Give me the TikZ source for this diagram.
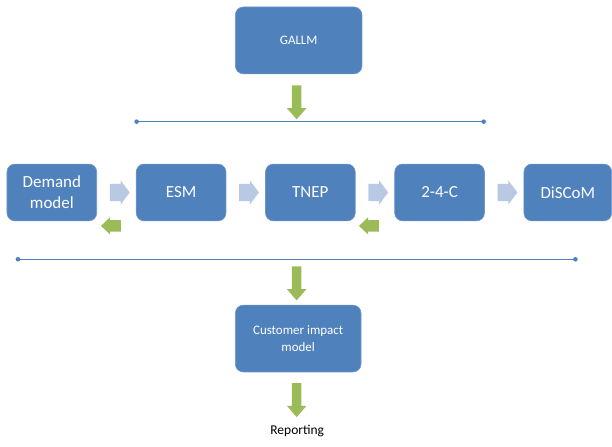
\documentclass[tikz,border=0pt]{standalone}
\usepackage{fontspec}
\setmainfont{Carlito}
\usetikzlibrary{positioning,shapes.arrows,calc}
\definecolor{boxblue}{RGB}{79,129,189}
\definecolor{boxedge}{RGB}{112,150,204}
\definecolor{flowgreen}{RGB}{155,187,89}
\definecolor{steplight}{RGB}{185,201,227}
\definecolor{barblue}{RGB}{79,129,189}

\begin{document}
\begin{tikzpicture}[x=1pt, y=-1pt,
        model/.style={draw=boxedge, line width=0.6pt, fill=boxblue, rounded corners=8pt,
            text=white, align=center, inner sep=2pt,
            minimum width=90pt, minimum height=57pt,
            font=\fontsize{17}{21}\selectfont},
        bigmodel/.style={model, minimum width=127pt, minimum height=67pt,
            font=\fontsize{13}{17}\selectfont},
        fwd/.style={single arrow, fill=steplight, inner xsep=0pt, inner ysep=8.5pt,
            minimum width=1pt, minimum height=20pt,
            single arrow head extend=3.5pt, single arrow tip angle=106},
        back/.style={single arrow, fill=flowgreen, inner xsep=0pt, inner ysep=5.5pt,
            minimum width=1pt, minimum height=20pt,
            single arrow head extend=3pt, single arrow tip angle=87,
            shape border rotate=180},
        down/.style={single arrow, fill=flowgreen, inner sep=4.5pt,
            minimum width=1pt, minimum height=34pt,
            single arrow head extend=5pt, single arrow tip angle=82,
            shape border rotate=270},
        bar/.style={draw=barblue, line width=1.4pt}]
    % top model
    \node[bigmodel] (gallm) at (299.5,40.5) {GALLM};
    \node[down] (d1) at (297.5,100) {};
    \coordinate (topL) at (137,122);
    \coordinate (topR) at (485,122);
    \draw[bar] (topL) -- (topR);
    \fill[barblue] (topL) circle[radius=2.3pt] (topR) circle[radius=2.3pt];

    % model chain
    \node[model] (dem) at (52,193) {Demand\\model};
    \node[model, right=39pt of dem] (esm) {ESM};
    \node[model, right=39pt of esm] (tnep) {TNEP};
    \node[model, right=39pt of tnep] (twofour) {2-4-C};
    \node[model, right=39pt of twofour, minimum width=88pt] (discom) {DiSCoM};
    \node[fwd] (f1) at ($(dem.east)!0.5!(esm.west)$) {};
    \node[fwd] (f2) at ($(esm.east)!0.5!(tnep.west)$) {};
    \node[fwd] (f3) at ($(tnep.east)!0.5!(twofour.west)$) {};
    \node[fwd] (f4) at ($(twofour.east)!0.5!(discom.west)$) {};
    \node[back] (b1) at ($(dem.east)!0.5!(esm.west)+(-2.5,33.5)$) {};
    \node[back] (b2) at ($(tnep.east)!0.5!(twofour.west)+(-3,33.5)$) {};

    \coordinate (lowL) at (18,260);
    \coordinate (lowR) at (577,260);
    \draw[bar] (lowL) -- (lowR);
    \fill[barblue] (lowL) circle[radius=2.3pt] (lowR) circle[radius=2.3pt];

    % output
    \node[down] (d2) at (297.5,281.5) {};
    \node[bigmodel, minimum width=126pt] (cust) at (299,339.5) {Customer impact\\model};
    \node[down] (d3) at (297.5,398.5) {};
    \node[font=\fontsize{13.5}{16}\selectfont] (report) at (298,432) {Reporting};

    \useasboundingbox (0,0) rectangle (612,448);
\end{tikzpicture}
\end{document}
